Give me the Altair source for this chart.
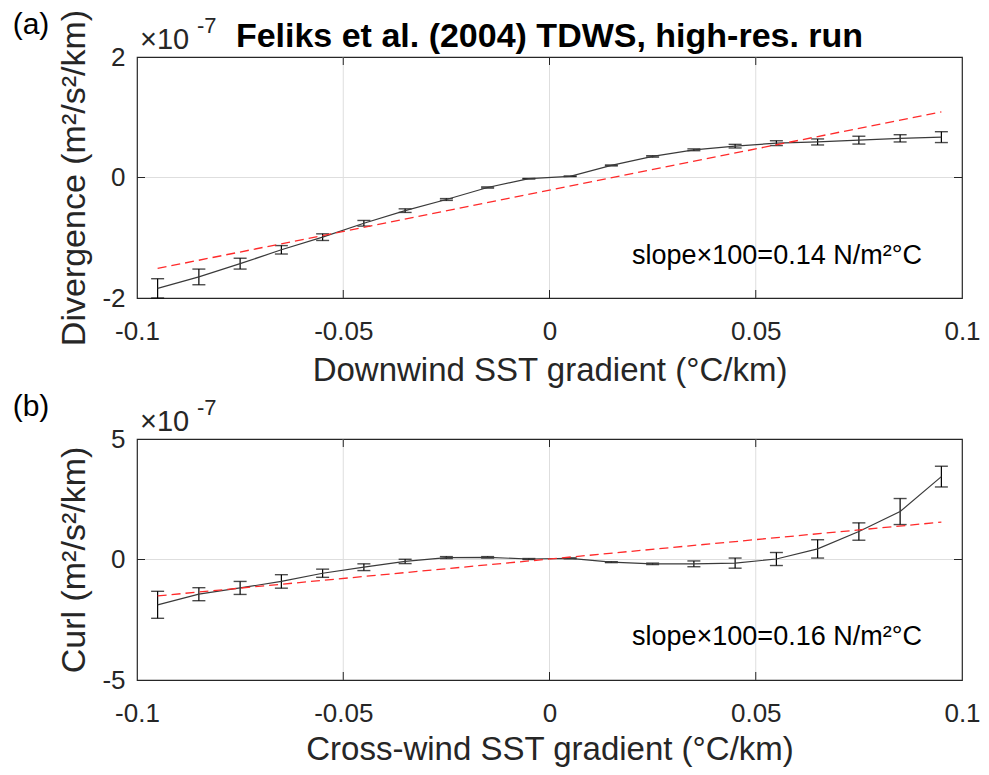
import altair as alt
import pandas as pd

# ---------------- data (values in units of 1e-7) ----------------
x_vals = [-0.095, -0.085, -0.075, -0.065, -0.055, -0.045, -0.035, -0.025, -0.015, -0.005,
          0.005, 0.015, 0.025, 0.035, 0.045, 0.055, 0.065, 0.075, 0.085, 0.095]
div_mean = [-1.84, -1.65, -1.43, -1.20, -0.99, -0.76, -0.55, -0.365, -0.166, -0.02,
            0.02, 0.20, 0.35, 0.46, 0.52, 0.57, 0.59, 0.62, 0.65, 0.67]
div_err = [0.16, 0.13, 0.09, 0.07, 0.055, 0.047, 0.03, 0.015, 0.01, 0.005,
           0.005, 0.008, 0.012, 0.015, 0.03, 0.04, 0.05, 0.065, 0.06, 0.09]
curl_mean = [-1.88, -1.44, -1.18, -0.91, -0.57, -0.32, -0.08, 0.08, 0.09, 0.02,
             0.05, -0.11, -0.18, -0.18, -0.15, 0.02, 0.44, 1.16, 1.99, 3.44]
curl_err = [0.56, 0.27, 0.27, 0.28, 0.17, 0.14, 0.09, 0.04, 0.03, 0.02,
            0.02, 0.02, 0.03, 0.12, 0.21, 0.27, 0.38, 0.36, 0.54, 0.43]
fit_x = [-0.095, 0.095]
div_fit = [-1.51, 1.09]
curl_fit = [-1.51, 1.55]

x_ticks = [-0.1, -0.05, 0, 0.05, 0.1]
x_grid = [-0.05, 0, 0.05]
div_ticks = [-2, 0, 2]
curl_ticks = [-5, 0, 5]
y_grid = [0]

title_text = "Feliks et al. (2004) TDWS, high-res. run"
div_ylabel = "Divergence (m²/s²/km)"
curl_ylabel = "Curl (m²/s²/km)"
div_xlabel = "Downwind SST gradient (°C/km)"
curl_xlabel = "Cross-wind SST gradient (°C/km)"
div_slope = "slope×100=0.14 N/m²°C"
curl_slope = "slope×100=0.16 N/m²°C"
slope_pos_x = 0.02
div_slope_y = -1.44
curl_slope_y = -3.54

FONT = "Liberation Sans"
W, H = 825, 241
INK = "#262626"
GRID = "#dedede"


def panel(mean, err, fit, ydom, yticks, ytitle, xtitle, letter, slope_text, slope_y,
          xtitle_y, title=None):
    xscale = alt.Scale(domain=[-0.1, 0.1], nice=False, zero=False)
    yscale = alt.Scale(domain=ydom, nice=False, zero=False)
    xaxis = alt.Axis(values=x_ticks, format="~g",
                     labelExpr="replace(datum.label, '\u2212', '-')",
                     title=xtitle, grid=False, domain=False, ticks=False,
                     labelFlush=False, labelOverlap=False,
                     labelFont=FONT, labelFontSize=26, labelColor=INK,
                     labelPadding=20, labelBaseline="top",
                     titleFont=FONT, titleFontSize=33, titleFontWeight="normal",
                     titleColor=INK, titleX=W / 2, titleY=xtitle_y, titleAlign="center",
                     titleBaseline="alphabetic")
    yaxis = alt.Axis(values=yticks, format="~g",
                     labelExpr="replace(datum.label, '\u2212', '-')",
                     title=ytitle, grid=False, domain=False, ticks=False,
                     labelFlush=False, labelOverlap=False,
                     labelFont=FONT, labelFontSize=26, labelColor=INK,
                     labelPadding=12,
                     titleFont=FONT, titleFontSize=34, titleFontWeight="normal",
                     titleColor=INK, titleX=-53, titleY=H / 2, titleAngle=270,
                     titleAlign="center", titleBaseline="alphabetic")

    def xe(f):
        return alt.X(f, scale=xscale, axis=xaxis)

    def ye(f):
        return alt.Y(f, scale=yscale, axis=yaxis)

    df = pd.DataFrame({
        "x": x_vals,
        "y": mean,
        "lo": [m - e for m, e in zip(mean, err)],
        "hi": [m + e for m, e in zip(mean, err)],
    })
    fdf = pd.DataFrame({"x": fit_x, "y": fit})
    xg = pd.DataFrame({"x": x_grid})
    yg = pd.DataFrame({"y": y_grid})

    gx = alt.Chart(xg).mark_rule(color=GRID, strokeWidth=1).encode(x=xe("x:Q"))
    gy = alt.Chart(yg).mark_rule(color=GRID, strokeWidth=1).encode(y=ye("y:Q"))
    tx_b = alt.Chart(xg).mark_rule(color=INK, strokeWidth=1).encode(
        x=xe("x:Q"), y=alt.value(H - 8), y2=alt.value(H))
    tx_t = alt.Chart(xg).mark_rule(color=INK, strokeWidth=1).encode(
        x=xe("x:Q"), y=alt.value(0), y2=alt.value(8))
    ty_l = alt.Chart(yg).mark_rule(color=INK, strokeWidth=1).encode(
        y=ye("y:Q"), x=alt.value(0), x2=alt.value(8))
    ty_r = alt.Chart(yg).mark_rule(color=INK, strokeWidth=1).encode(
        y=ye("y:Q"), x=alt.value(W - 8), x2=alt.value(W))

    base = alt.Chart(df)
    bars = base.mark_rule(color="#000000", strokeWidth=1.2).encode(
        x=xe("x:Q"), y=ye("lo:Q"), y2="hi:Q")
    cap_lo = base.mark_tick(color="#000000", thickness=1.4, size=13, orient="horizontal").encode(
        x=xe("x:Q"), y=ye("lo:Q"))
    cap_hi = base.mark_tick(color="#000000", thickness=1.4, size=13, orient="horizontal").encode(
        x=xe("x:Q"), y=ye("hi:Q"))
    line = base.mark_line(color="#3a3a3a", strokeWidth=1.2).encode(x=xe("x:Q"), y=ye("y:Q"))
    fitl = alt.Chart(fdf).mark_line(color="#ff2a2a", strokeWidth=1.3, strokeDash=[9, 5]).encode(
        x=xe("x:Q"), y=ye("y:Q"))

    ann = alt.Chart(pd.DataFrame({"x": [slope_pos_x], "y": [slope_y], "t": [slope_text]})).mark_text(
        font=FONT, fontSize=27, align="left", baseline="alphabetic", color="#000000").encode(
        x=xe("x:Q"), y=ye("y:Q"), text="t:N")

    let = alt.Chart(pd.DataFrame({"t": [letter]})).mark_text(
        font=FONT, fontSize=30, align="center", baseline="middle", color="#000000").encode(
        x=alt.value(-106), y=alt.value(-32.5), text="t:N")
    exp1 = alt.Chart(pd.DataFrame({"t": ["×10"]})).mark_text(
        font=FONT, fontSize=29, align="left", baseline="alphabetic", color=INK).encode(
        x=alt.value(3), y=alt.value(-8), text="t:N")
    exp2 = alt.Chart(pd.DataFrame({"t": ["-7"]})).mark_text(
        font=FONT, fontSize=22, align="left", baseline="alphabetic", color=INK).encode(
        x=alt.value(60), y=alt.value(-24), text="t:N")

    layers = [gx, gy, tx_b, tx_t, ty_l, ty_r, bars, cap_lo, cap_hi, line, fitl, ann, let, exp1, exp2]
    if title is not None:
        ttl = alt.Chart(pd.DataFrame({"t": [title]})).mark_text(
            font=FONT, fontSize=34, fontWeight="bold", align="center", baseline="alphabetic",
            color="#000000").encode(x=alt.value(W / 2), y=alt.value(-10), text="t:N")
        layers.append(ttl)
    return alt.layer(*layers).properties(width=W, height=H)


top = panel(div_mean, div_err, div_fit, [-2, 2], div_ticks, div_ylabel, div_xlabel, "(a)",
            div_slope, div_slope_y, 82, title=title_text)
bottom = panel(curl_mean, curl_err, curl_fit, [-5, 5], curl_ticks, curl_ylabel, curl_xlabel, "(b)",
               curl_slope, curl_slope_y, 79)

chart = alt.vconcat(top, bottom, spacing=141, bounds="flush").properties(
    autosize=alt.AutoSizeParams(type="none"),
    padding={"left": 129, "top": 49, "right": 19, "bottom": 710},
    background="white",
).configure_view(stroke=INK, strokeWidth=1.2)

chart.save("out.html", embed_options={"renderer": "svg", "actions": False})
